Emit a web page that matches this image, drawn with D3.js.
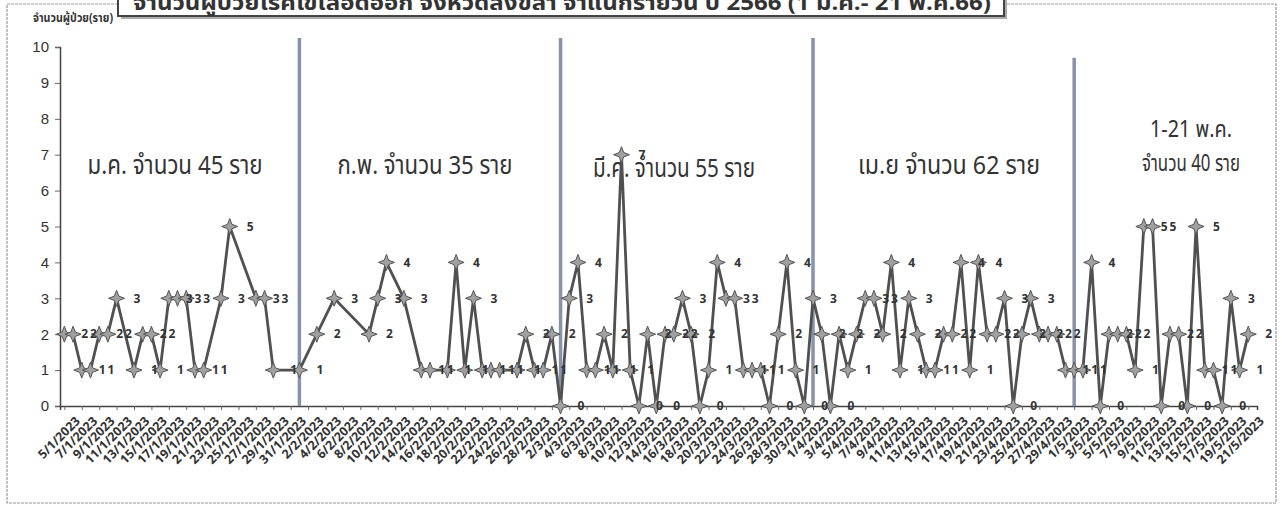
<!DOCTYPE html>
<html>
<head>
<meta charset="utf-8">
<script src="https://cdn.jsdelivr.net/npm/d3@7"></script>
<style>
  body { margin: 0; background: #fff; }
  text { font-family: "Noto Sans Thai", "Tahoma", "DejaVu Sans", sans-serif; fill: #333; }
</style>
</head>
<body>
<svg id="chart" width="1282" height="506"></svg>
<script>
// daily cases (dates as d/m of 2023)
const janDays = [5, 6, 7, 8, 9, 10, 11, 13, 14, 15, 16, 17, 18, 19, 20, 21, 23, 24, 27, 28, 29];
const janCases = [2, 2, 1, 1, 2, 2, 3, 1, 2, 2, 1, 3, 3, 3, 1, 1, 3, 5, 3, 3, 1];
const febDays = [1, 3, 5, 9, 10, 11, 13, 15, 16, 18, 19, 20, 21, 22, 23, 24, 26, 27, 28];
const febCases = [1, 2, 3, 2, 3, 4, 3, 1, 1, 1, 4, 1, 3, 1, 1, 1, 1, 2, 1];
const marCases = [1, 2, 0, 3, 4, 1, 1, 2, 1, 7, 1, 0, 2, 0, 2, 2, 3, 2, 0, 1, 4, 3, 3, 1, 1, 1, 0, 2, 4, 1, 0];
const aprCases = [3, 2, 0, 2, 1, 2, 3, 3, 2, 4, 1, 3, 2, 1, 1, 2, 2, 4, 1, 4, 2, 2, 3, 0, 2, 3, 2, 2, 2, 1];
const mayCases = [1, 1, 4, 0, 2, 2, 2, 1, 5, 5, 0, 2, 2, 0, 5, 1, 1, 0, 3, 1, 2];

const yTicks = [0, 1, 2, 3, 4, 5, 6, 7, 8, 9, 10];
const monthBreaks = ["2023-02-01", "2023-03-03", "2023-04-01", "2023-05-01"];
const monthNotes = [
    ["ม.ค. จำนวน 45 ราย"],
    ["ก.พ. จำนวน 35 ราย"],
    ["มี.ค. จำนวน 55 ราย"],
    ["เม.ย จำนวน 62 ราย"],
    ["1-21 พ.ค.", "จำนวน 40 ราย"]
];
const titleText = "จำนวนผู้ป่วยโรคไข้เลือดออก จังหวัดสงขลา จำแนกรายวัน ปี 2566 (1 ม.ค.- 21 พ.ค.66)";
const yTitle = "จำนวนผู้ป่วย(ราย)";

// build the point list
let points = [];
janDays.forEach((d, i) => points.push({date: new Date(2023, 0, d), value: janCases[i]}));
febDays.forEach((d, i) => points.push({date: new Date(2023, 1, d), value: febCases[i]}));
marCases.forEach((v, i) => points.push({date: new Date(2023, 2, i + 1), value: v}));
aprCases.forEach((v, i) => points.push({date: new Date(2023, 3, i + 1), value: v}));
mayCases.forEach((v, i) => points.push({date: new Date(2023, 4, i + 1), value: v}));

const svg = d3.select("#chart");

const x = d3.scaleTime()
    .domain([new Date(2023, 0, 4, 12), new Date(2023, 4, 22)])
    .range([60, 1257]);
const y = d3.scaleLinear().domain([0, 10]).range([406, 47]);

// outer frame
svg.append("rect")
    .attr("x", 7).attr("y", 4)
    .attr("width", 1269).attr("height", 499)
    .attr("fill", "none")
    .attr("stroke", "#999")
    .attr("stroke-width", 1.2)
    .attr("stroke-dasharray", "3,1");

// title box, cut off at the top
svg.append("rect")
    .attr("x", 121).attr("y", -14)
    .attr("width", 886).attr("height", 33)
    .attr("fill", "#aaa");
svg.append("rect")
    .attr("x", 118).attr("y", -16)
    .attr("width", 886).attr("height", 32)
    .attr("fill", "#fff")
    .attr("stroke", "#444")
    .attr("stroke-width", 2);
svg.append("text")
    .attr("x", 133).attr("y", 10)
    .attr("textLength", 858)
    .attr("lengthAdjust", "spacingAndGlyphs")
    .style("font-size", "21px")
    .style("font-weight", "bold")
    .text(titleText);

// y axis title
svg.append("text")
    .attr("x", 33).attr("y", 22)
    .attr("textLength", 80)
    .attr("lengthAdjust", "spacingAndGlyphs")
    .style("font-size", "12px")
    .style("font-weight", "bold")
    .text(yTitle);

// axes
svg.append("g")
    .attr("transform", "translate(60,0)")
    .call(d3.axisLeft(y).tickValues(yTicks).tickSize(5).tickPadding(6))
    .call(g => g.select(".domain").attr("stroke", "#444").attr("stroke-width", 1.5))
    .call(g => g.selectAll(".tick line").attr("stroke", "#666"))
    .call(g => g.selectAll(".tick text").style("font-size", "15px").style("font-family", "Arial, 'Liberation Sans', sans-serif").attr("fill", "#333"));

const labelDates = d3.timeDay.range(new Date(2023, 0, 5), new Date(2023, 4, 22), 2);
svg.append("g")
    .attr("transform", "translate(0," + y(0) + ")")
    .call(d3.axisBottom(x).tickValues(labelDates).tickSize(4).tickPadding(4)
        .tickFormat(d => d.getDate() + "/" + (d.getMonth() + 1) + "/" + d.getFullYear()))
    .call(g => g.select(".domain").attr("stroke", "#444").attr("stroke-width", 1.5))
    .call(g => g.selectAll(".tick line").attr("stroke", "#666"))
    .call(g => g.selectAll(".tick text")
        .style("font-size", "12.5px")
        .style("font-weight", "bold")
        .attr("fill", "#444")
        .attr("text-anchor", "end")
        .attr("transform", "translate(4,4) rotate(-45)"));

// month separators
svg.selectAll(".sep").data(monthBreaks).enter().append("line")
    .attr("class", "sep")
    .attr("x1", d => x(new Date(d + "T00:00")))
    .attr("x2", d => x(new Date(d + "T00:00")))
    .attr("y1", (d, i) => i === 3 ? y(9.7) : y(10.25))
    .attr("y2", y(0))
    .attr("stroke", "#8793a8")
    .attr("stroke-width", 3.5);

// month notes (condensed to the widths seen in the picture): x centre, y, width, font size
const notePos = [[175, 165, 175, 26], [425, 165, 175, 26], [674, 168, 162, 26], [949, 165, 182, 26],
                 [1191, 129, 82, 23], [1191, 163, 98, 23]];
let k = 0;
monthNotes.forEach(lines => {
    lines.forEach(t => {
        const p = notePos[k++];
        svg.append("text")
            .attr("x", p[0] - p[2] / 2)
            .attr("y", p[1])
            .attr("dy", "0.35em")
            .attr("textLength", p[2])
            .attr("lengthAdjust", "spacingAndGlyphs")
            .style("font-size", p[3] + "px")
            .text(t);
    });
});

// line
svg.append("path")
    .datum(points)
    .attr("fill", "none")
    .attr("stroke", "#505050")
    .attr("stroke-width", 2.8)
    .attr("d", d3.line().x(d => x(d.date)).y(d => y(d.value)));

// markers: 4-point star
const star = "M0,-8 L2.2,-2.2 L8,0 L2.2,2.2 L0,8 L-2.2,2.2 L-8,0 L-2.2,-2.2 Z";
svg.selectAll(".mark").data(points).enter().append("path")
    .attr("class", "mark")
    .attr("transform", d => "translate(" + x(d.date) + "," + y(d.value) + ")")
    .attr("d", star)
    .attr("fill", "#a0a0a0")
    .attr("stroke", "#555")
    .attr("stroke-width", 1);

// value labels
svg.selectAll(".val").data(points).enter().append("text")
    .attr("class", "val")
    .attr("x", d => x(d.date) + 17)
    .attr("y", d => y(d.value))
    .attr("dy", "0.35em")
    .style("font-size", "12px")
    .style("font-weight", "bold")
    .attr("fill", "#444")
    .text(d => d.value);
</script>
</body>
</html>
